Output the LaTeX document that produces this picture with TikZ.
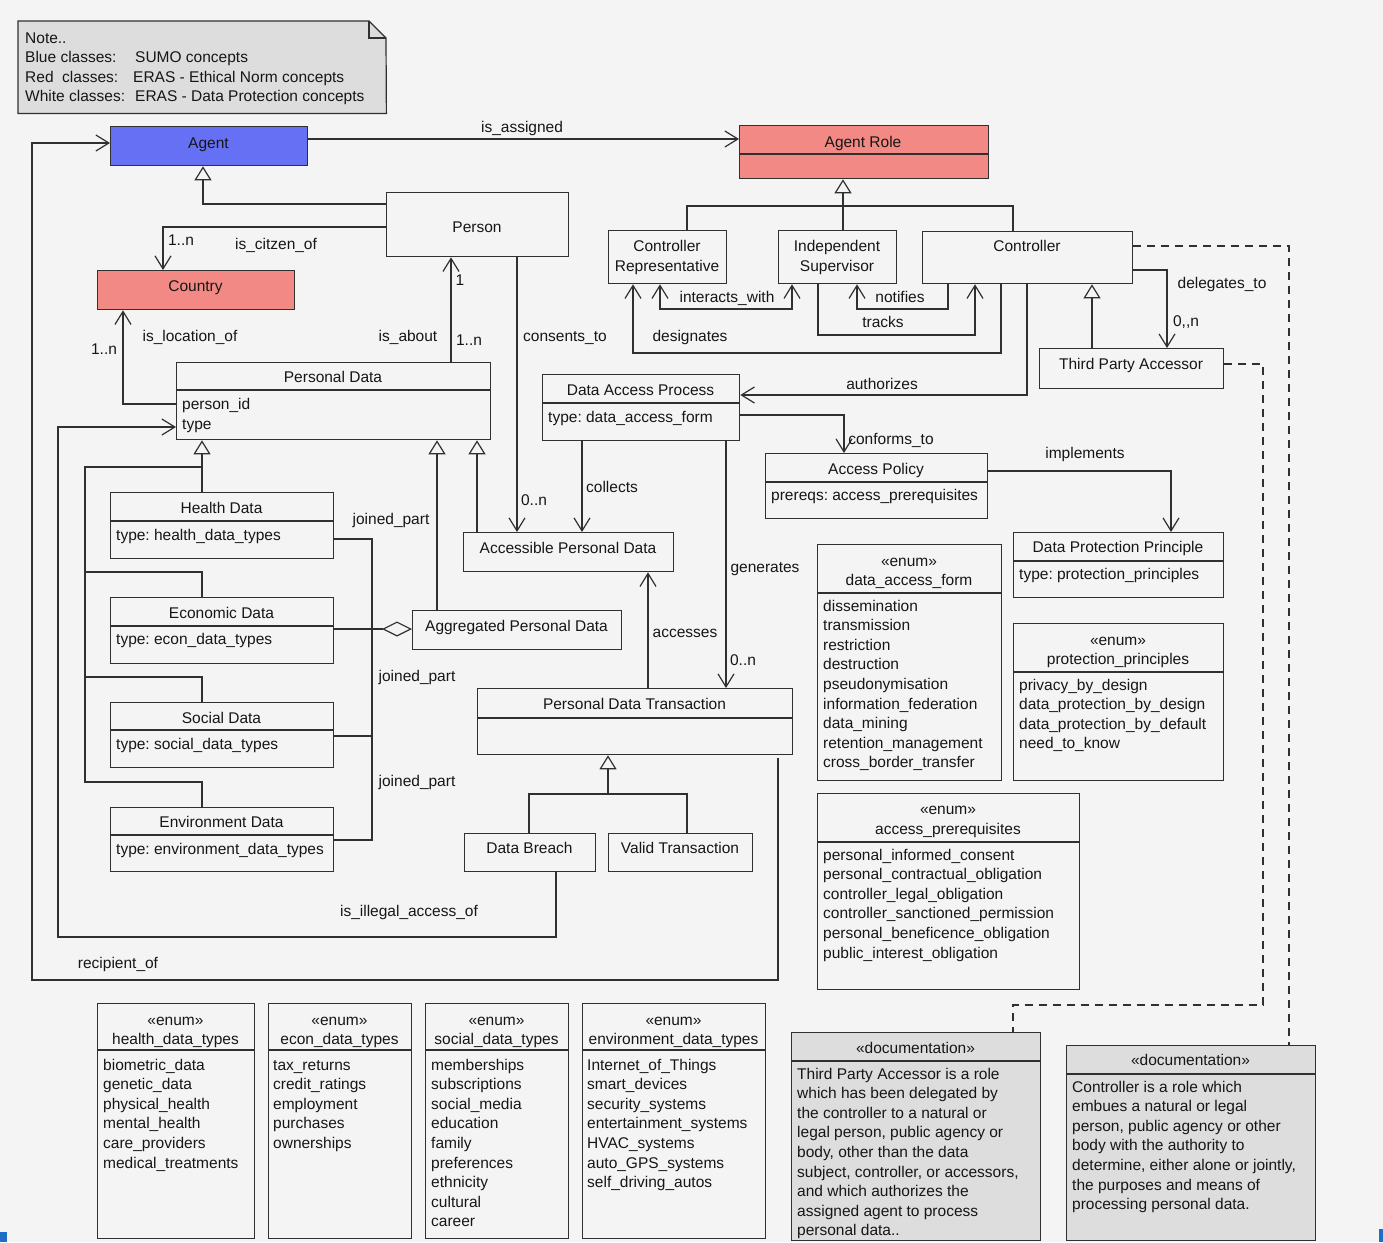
\documentclass[tikz,border=0pt]{standalone}
\usepackage{fontspec}
\setmainfont{Liberation Sans}
\usetikzlibrary{arrows.meta}

\definecolor{bg}{RGB}{244,244,244}
\definecolor{ln}{RGB}{48,48,48}
\definecolor{tx}{RGB}{22,22,22}
\definecolor{sumo}{RGB}{102,112,244}
\definecolor{eras}{RGB}{243,137,133}
\definecolor{notegray}{RGB}{221,221,221}
\definecolor{edge}{RGB}{30,110,200}

\newcommand{\fs}{\fontsize{15.5}{19.6}\selectfont\frenchspacing}
% class box from (x1,y1) to (x2,y2), y measured downwards
\newcommand{\ubox}[6][]{\node[umlbox,#1,anchor=north west,minimum width={(#5-#3)*1pt},minimum height={(#6-#4)*1pt}] (#2) at (#3,#4) {};}
% compartment separator inside a box
\newcommand{\udiv}[2]{\draw[wire] (#1.west |- 0,#2) -- (#1.east |- 0,#2);}
% centred and left-aligned text, y is the visual centre of the line
\newcommand{\lab}[4]{\node[lbl] (#1) at (#2,{#3+5}) {#4};}
\newcommand{\labl}[4]{\node[lbl,anchor=base west] (#1) at (#2,{#3+5}) {#4};}
% list of lines, 19.6 apart
\newcommand{\itemlist}[4]{\foreach \t [count=\i] in {#4} {\node[lbl,anchor=base west] (#1-\i) at (#2,{#3+5+(\i-1)*19.6}) {\t};}}

\begin{document}
\begin{tikzpicture}[x=1pt,y=-1pt,
  umlbox/.style={draw=ln,line width=1.3pt,rectangle,inner sep=0pt},
  wire/.style={draw=ln,line width=1.2pt},
  assoc/.style={wire,-{Straight Barb[length=13pt,width=16pt,line width=1.2pt]}},
  assocboth/.style={wire,{Straight Barb[length=13pt,width=16pt,line width=1.2pt]}-{Straight Barb[length=13pt,width=16pt,line width=1.2pt]}},
  gen/.style={wire,-{Triangle[open,length=14pt,width=17pt,line width=1.2pt]}},
  aggr/.style={wire,-{Diamond[open,length=30pt,width=15pt,line width=1.2pt]}},
  dashline/.style={draw=ln,line width=1.2pt,dash pattern=on 8pt off 6pt},
  lbl/.style={text=tx,inner sep=0pt,anchor=base,font=\fs}]

\useasboundingbox (0,0) rectangle (1383,1242);
\fill[bg] (0,0) rectangle (1383,1242);
\fill[edge] (0,1232) rectangle (7,1242);
\fill[edge] (1379,1229) rectangle (1383,1242);

% ---------- legend note ----------
\node[inner sep=0pt,anchor=north west,minimum width=368pt,minimum height=92pt] (note) at (18,21) {};
\draw[wire,fill=notegray] (note.north west) -- (369,21) -- (386,38) -- (note.south east) -- (note.south west) -- cycle;
\draw[wire] (369,21) -- (369,38) -- (386,38);
\labl{n0}{25}{38}{Note..}
\labl{n1}{25}{57}{Blue classes:}
\labl{n2}{25}{77}{Red\ \ classes:}
\labl{n3}{25}{96}{White classes:}
\labl{n1b}{135}{57}{SUMO concepts}
\labl{n2b}{133}{77}{ERAS - Ethical Norm concepts}
\labl{n3b}{135}{96}{ERAS - Data Protection concepts}

% ---------- classes ----------
\ubox[fill=sumo]{agent}{110}{126}{307}{165}
\lab{agent-t}{208.5}{143}{Agent}
\ubox[fill=eras]{agentrole}{739}{125}{988}{178}
\udiv{agentrole}{154}
\lab{agentrole-t}{863}{142}{Agent Role}
\ubox{person}{386}{192}{568}{256}
\lab{person-t}{477}{227}{Person}
\ubox[fill=eras]{country}{97}{270}{294}{309}
\lab{country-t}{195.5}{286}{Country}

\ubox{pdata}{176}{362}{490}{439}
\udiv{pdata}{390}
\lab{pdata-t}{333}{377}{Personal Data}
\labl{pdata-a1}{182}{404}{person\_id}
\labl{pdata-a2}{182}{424}{type}

\ubox{health}{110}{492}{333}{558}
\udiv{health}{521}
\lab{health-t}{221.5}{508}{Health Data}
\labl{health-a}{116}{535}{type: health\_data\_types}
\ubox{econ}{110}{597}{333}{663}
\udiv{econ}{626}
\lab{econ-t}{221.5}{613}{Economic Data}
\labl{econ-a}{116}{639}{type: econ\_data\_types}
\ubox{social}{110}{702}{333}{767}
\udiv{social}{730}
\lab{social-t}{221.5}{718}{Social Data}
\labl{social-a}{116}{744}{type: social\_data\_types}
\ubox{envd}{110}{807}{333}{871}
\udiv{envd}{835}
\lab{envd-t}{221.5}{822}{Environment Data}
\labl{envd-a}{116}{849}{type: environment\_data\_types}

\ubox{dap}{542}{374}{739}{440}
\udiv{dap}{403}
\lab{dap-t}{640.5}{390}{Data Access Process}
\labl{dap-a}{548}{417}{type: data\_access\_form}
\ubox{apd}{463}{532}{673}{571}
\lab{apd-t}{568}{548}{Accessible Personal Data}
\ubox{agg}{412}{610}{621}{649}
\lab{agg-t}{516.5}{626}{Aggregated Personal Data}
\ubox{pdt}{477}{688}{792}{754}
\udiv{pdt}{718}
\lab{pdt-t}{634.5}{704}{Personal Data Transaction}
\ubox{breach}{464}{833}{595}{871}
\lab{breach-t}{529.5}{848}{Data Breach}
\ubox{valid}{608}{833}{752}{871}
\lab{valid-t}{680}{848}{Valid Transaction}

\ubox{crep}{608}{230}{726}{283}
\lab{crep-t1}{667}{246}{Controller}
\lab{crep-t2}{667}{266}{Representative}
\ubox{isup}{778}{230}{896}{283}
\lab{isup-t1}{837}{246}{Independent}
\lab{isup-t2}{837}{266}{Supervisor}
\ubox{ctrl}{922}{231}{1132}{283}
\lab{ctrl-t}{1027}{246}{Controller}
\ubox{tpa}{1039}{348}{1223}{388}
\lab{tpa-t}{1131}{364}{Third Party Accessor}

\ubox{apol}{765}{453}{987}{518}
\udiv{apol}{482}
\lab{apol-t}{876}{469}{Access Policy}
\labl{apol-a}{771}{495}{prereqs: access\_prerequisites}
\ubox{dpp}{1013}{532}{1223}{597}
\udiv{dpp}{561}
\lab{dpp-t}{1118}{547}{Data Protection Principle}
\labl{dpp-a}{1019}{574}{type: protection\_principles}

% ---------- enumerations ----------
\ubox{eform}{817}{544}{1001}{780}
\udiv{eform}{593}
\lab{eform-s}{909}{561}{«enum»}
\lab{eform-t}{909}{580}{data\_access\_form}
\itemlist{eform}{823}{606}{dissemination,transmission,restriction,destruction,pseudonymisation,information\_federation,data\_mining,retention\_management,cross\_border\_transfer}

\ubox{eprin}{1013}{623}{1223}{780}
\udiv{eprin}{672}
\lab{eprin-s}{1118}{640}{«enum»}
\lab{eprin-t}{1118}{659}{protection\_principles}
\itemlist{eprin}{1019}{685}{privacy\_by\_design,data\_protection\_by\_design,data\_protection\_by\_default,need\_to\_know}

\ubox{epre}{817}{793}{1079}{989}
\udiv{epre}{842}
\lab{epre-s}{948}{809}{«enum»}
\lab{epre-t}{948}{829}{access\_prerequisites}
\itemlist{epre}{823}{855}{personal\_informed\_consent,personal\_contractual\_obligation,controller\_legal\_obligation,controller\_sanctioned\_permission,personal\_beneficence\_obligation,public\_interest\_obligation}

\ubox{ehealth}{97}{1003}{254}{1238}
\udiv{ehealth}{1050}
\lab{ehealth-s}{175.5}{1020}{«enum»}
\lab{ehealth-t}{175.5}{1039}{health\_data\_types}
\itemlist{ehealth}{103}{1065}{biometric\_data,genetic\_data,physical\_health,mental\_health,care\_providers,medical\_treatments}

\ubox{eecon}{268}{1003}{411}{1238}
\udiv{eecon}{1050}
\lab{eecon-s}{339.5}{1020}{«enum»}
\lab{eecon-t}{339.5}{1039}{econ\_data\_types}
\itemlist{eecon}{273}{1065}{tax\_returns,credit\_ratings,employment,purchases,ownerships}

\ubox{esocial}{425}{1003}{568}{1238}
\udiv{esocial}{1050}
\lab{esocial-s}{496.5}{1020}{«enum»}
\lab{esocial-t}{496.5}{1039}{social\_data\_types}
\itemlist{esocial}{431}{1065}{memberships,subscriptions,social\_media,education,family,preferences,ethnicity,cultural,career}

\ubox{eenv}{582}{1003}{765}{1238}
\udiv{eenv}{1050}
\lab{eenv-s}{673.5}{1020}{«enum»}
\lab{eenv-t}{673.5}{1039}{environment\_data\_types}
\itemlist{eenv}{587}{1065}{Internet\_of\_Things,smart\_devices,security\_systems,entertainment\_systems,HVAC\_systems,auto\_GPS\_systems,self\_driving\_autos}

% ---------- documentation notes ----------
\ubox[fill=notegray]{tdoc}{791}{1032}{1040}{1240}
\udiv{tdoc}{1061}
\lab{tdoc-s}{915.5}{1048}{«documentation»}
\itemlist{tdoc}{797}{1074}{Third Party Accessor is a role,which has been delegated by,the controller to a natural or,{legal person, public agency or},{body, other than the data},{subject, controller, or accessors,},and which authorizes the,assigned agent to process,personal data..}

\ubox[fill=notegray]{cdoc}{1066}{1045}{1315}{1240}
\udiv{cdoc}{1074}
\lab{cdoc-s}{1190.5}{1060}{«documentation»}
\itemlist{cdoc}{1072}{1087}{Controller is a role which,embues a natural or legal,{person, public agency or other},body with the authority to,{determine, either alone or jointly,},the purposes and means of,processing personal data.}

% ---------- connectors ----------
\draw[assoc] (agent.east |- 0,139) -- (agentrole.west |- 0,139);
\lab{l-assigned}{522}{127}{is\_assigned}

\draw[gen] (person.west |- 0,204) -| (203,0 |- agent.south);

\draw[assoc] (person.west |- 0,227) -| (163,0 |- country.north);
\lab{l-cit-m}{181}{240}{1..n}
\lab{l-cit}{276}{244}{is\_citzen\_of}

\draw[assoc] (pdata.west |- 0,404) -| (123,0 |- country.south);
\lab{l-loc-m}{104}{349}{1..n}
\lab{l-loc}{190}{336}{is\_location\_of}

\draw[assoc] (451,0 |- pdata.north) -- (451,0 |- person.south);
\lab{l-about}{408}{336}{is\_about}
\lab{l-about-m1}{460}{280}{1}
\lab{l-about-m2}{469}{340}{1..n}

\draw[assoc] (517,0 |- person.south) -- (517,0 |- apd.north);
\lab{l-consent}{565}{336}{consents\_to}
\lab{l-consent-m}{534}{500}{0..n}

\draw[assoc] (582,0 |- dap.south) -- (582,0 |- apd.north);
\lab{l-collects}{612}{487}{collects}

\draw[assoc] (726,0 |- dap.south) -- (726,0 |- pdt.north);
\lab{l-generates}{765}{567}{generates}
\lab{l-generates-m}{743}{660}{0..n}

\draw[assoc] (648,0 |- pdt.north) -- (648,0 |- apd.south);
\lab{l-accesses}{685}{632}{accesses}

% specialisations of Personal Data
\draw[gen] (202,0 |- health.north) -- (202,0 |- pdata.south);
\draw[wire] (202,467) -- (85,467) -- (85,782) -- (202,782) -- (202,0 |- envd.north);
\draw[wire] (85,572) -| (202,0 |- econ.north);
\draw[wire] (85,677) -| (202,0 |- social.north);
\draw[gen] (437,0 |- agg.north) -- (437,0 |- pdata.south);
\draw[gen] (477,0 |- apd.north) -- (477,0 |- pdata.south);

% joined parts of the aggregate
\draw[wire] (health.east |- 0,539) -| (372,840) -- (envd.east |- 0,840);
\draw[wire] (social.east |- 0,736) -- (372,736);
\draw[aggr] (econ.east |- 0,629) -- (agg.west |- 0,629);
\lab{l-joined1}{391}{519}{joined\_part}
\lab{l-joined2}{417}{676}{joined\_part}
\lab{l-joined3}{417}{781}{joined\_part}

% specialisations of Personal Data Transaction
\coordinate (pdtj) at (608,794);
\draw[gen] (pdtj) -- (pdtj |- pdt.south);
\draw[wire] (529,0 |- breach.north) |- (pdtj) -| (687,0 |- valid.north);

\draw[assoc] (556,0 |- breach.south) |- (58,937) |- (pdata.west |- 0,427);
\lab{l-illegal}{409}{911}{is\_illegal\_access\_of}

\coordinate (recip) at (778,758);
\draw[assoc] (recip) |- (32,980) |- (agent.west |- 0,143);
\lab{l-recipient}{118}{963}{recipient\_of}

% specialisations of Agent Role
\coordinate (rolej) at (843,206);
\draw[gen] (rolej) -- (rolej |- agentrole.south);
\draw[wire] (687,0 |- crep.north) |- (1013,206) -- (1013,0 |- ctrl.north);
\draw[wire] (rolej) -- (rolej |- isup.north);

\draw[assocboth] (660,0 |- crep.south) |- (792,309) -- (792,0 |- isup.south);
\lab{l-interacts}{727}{297}{interacts\_with}
\draw[assoc] (948,0 |- ctrl.south) |- (857,309) -- (857,0 |- isup.south);
\lab{l-notifies}{900}{297}{notifies}
\draw[assoc] (818,0 |- isup.south) |- (975,335) -- (975,0 |- ctrl.south);
\lab{l-tracks}{883}{322}{tracks}
\draw[assoc] (1001,0 |- ctrl.south) |- (633,353) -- (633,0 |- crep.south);
\lab{l-designates}{690}{336}{designates}
\draw[assoc] (1027,0 |- ctrl.south) |- (dap.east |- 0,395);
\lab{l-authorizes}{882}{384}{authorizes}
\draw[assoc] (dap.east |- 0,415) -| (844,0 |- apol.north);
\lab{l-conforms}{891}{439}{conforms\_to}
\draw[assoc] (apol.east |- 0,471) -| (1171,0 |- dpp.north);
\lab{l-implements}{1085}{453}{implements}
\draw[assoc] (ctrl.east |- 0,270) -| (1167,0 |- tpa.north);
\lab{l-delegates}{1222}{283}{delegates\_to}
\lab{l-delegates-m}{1186}{321}{0,{},n}
\draw[gen] (1092,0 |- tpa.north) -- (1092,0 |- ctrl.south);

% documentation links
\draw[dashline] (ctrl.east |- 0,246) -| (1289,0 |- cdoc.north);
\draw[dashline] (tpa.east |- 0,364) -| (1263,1005) -| (1013,0 |- tdoc.north);

\end{tikzpicture}
\end{document}
